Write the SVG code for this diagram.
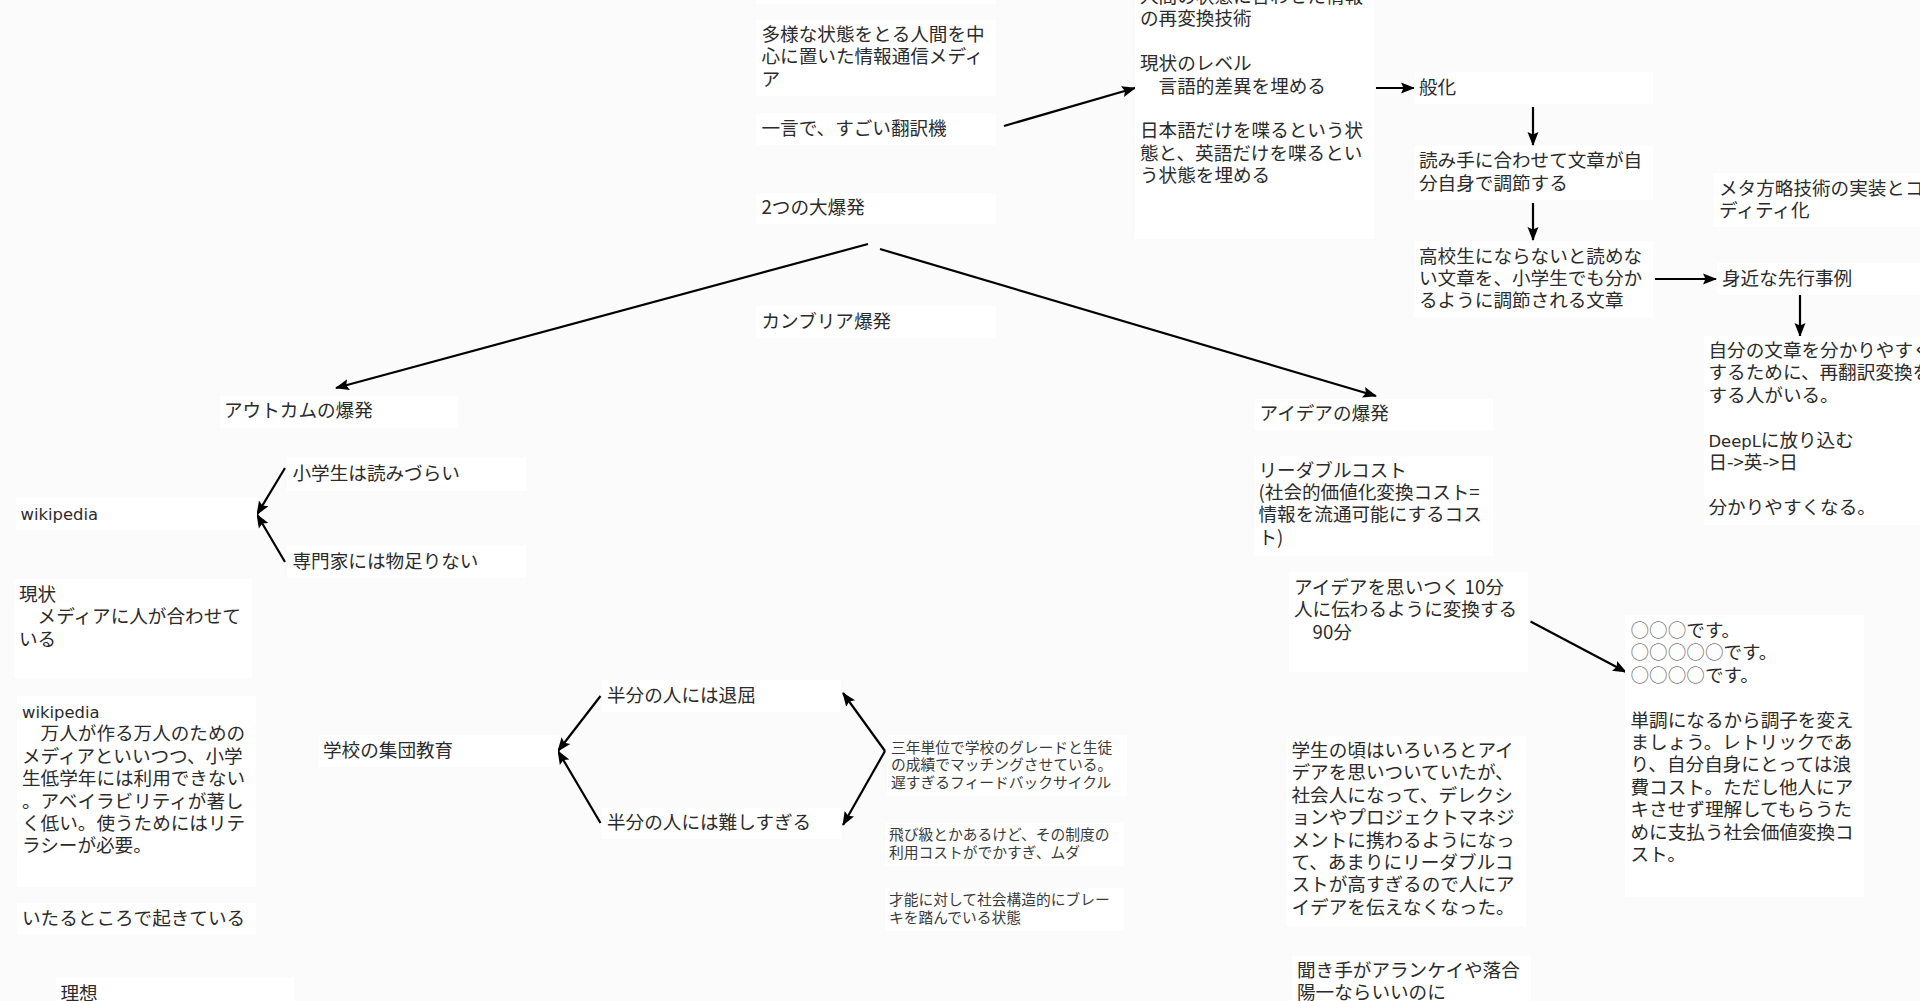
<svg xmlns="http://www.w3.org/2000/svg" width="1920" height="1001" viewBox="0 0 1920 1001">
<style>
.b{fill:#fff}
text{font-family:"Noto Sans CJK JP","Noto Sans",sans-serif;font-size:18.6px;fill:#2b2b2b}
.s{font-size:14.75px;fill:#3a3a3a}
.w{font-family:"DejaVu Sans","Noto Sans",sans-serif;font-size:16.4px}
.o{fill:#777}
.c line{stroke:#000;stroke-width:2.2;fill:none}
.a{marker-end:url(#arr)}
</style>
<defs><marker id="arr" markerUnits="userSpaceOnUse" markerWidth="16" markerHeight="14" refX="13" refY="6" orient="auto"><path d="M0 0.5L14 6L0 11.5L2.5 6Z" fill="#000"/></marker></defs>
<rect width="1920" height="1001" fill="#fbfbfb"/>
<g id="connectors" class="c">
<line class="a" x1="1004" y1="126" x2="1135" y2="88"/>
<line class="a" x1="1376" y1="88" x2="1414" y2="88"/>
<line class="a" x1="1533" y1="107" x2="1533" y2="145"/>
<line class="a" x1="1533" y1="203" x2="1533" y2="240"/>
<line class="a" x1="1655" y1="279" x2="1716" y2="279"/>
<line class="a" x1="1800" y1="287" x2="1800" y2="336"/>
<line class="a" x1="868" y1="244" x2="336" y2="388"/>
<line class="a" x1="880" y1="249" x2="1376" y2="396"/>
<line class="a" x1="285" y1="468" x2="257" y2="514.5"/>
<line class="a" x1="285" y1="562" x2="257" y2="514.5"/>
<line class="a" x1="600.5" y1="696" x2="558" y2="751"/>
<line class="a" x1="600.5" y1="823" x2="558" y2="751"/>
<line class="a" x1="885" y1="751" x2="843" y2="693"/>
<line class="a" x1="885" y1="751" x2="843" y2="825"/>
<line class="a" x1="1530.5" y1="621.5" x2="1626" y2="672"/>
</g>
<g id="n-top"><rect class="b" x="756" y="-20" width="240" height="24"/></g>
<g id="n-tayou"><rect class="b" x="756" y="20" width="240" height="76"/><text y="41"><tspan x="761.5">多様な状態をとる人間を中</tspan><tspan x="761.5" dy="22.4">心に置いた情報通信メディ</tspan><tspan x="761.5" dy="22.4">ア</tspan></text></g>
<g id="n-hitokoto"><rect class="b" x="756" y="113" width="240" height="32"/><text x="761.5" y="134.5">一言で、すごい翻訳機</text></g>
<g id="n-futatsu"><rect class="b" x="756" y="193" width="240" height="31"/><text x="761.5" y="214">2つの大爆発</text></g>
<g id="n-cambria"><rect class="b" x="756" y="306" width="240" height="32"/><text x="761.5" y="328">カンブリア爆発</text></g>
<g id="n-saihenkan"><rect class="b" x="1135" y="-10" width="239" height="249"/><text y="3"><tspan x="1140">人間の状態に合わせた情報</tspan><tspan x="1140" dy="22.4">の再変換技術</tspan><tspan x="1140" dy="44.8">現状のレベル</tspan><tspan x="1140" dy="22.4">　言語的差異を埋める</tspan><tspan x="1140" dy="44.8">日本語だけを喋るという状</tspan><tspan x="1140" dy="22.4">態と、英語だけを喋るとい</tspan><tspan x="1140" dy="22.4">う状態を埋める</tspan></text></g>
<g id="n-ippanka"><rect class="b" x="1414" y="72" width="239" height="32"/><text x="1419" y="93.5">般化</text></g>
<g id="n-yomite"><rect class="b" x="1414" y="146" width="239" height="54"/><text y="167"><tspan x="1419">読み手に合わせて文章が自</tspan><tspan x="1419" dy="22.7">分自身で調節する</tspan></text></g>
<g id="n-koukou"><rect class="b" x="1414" y="241" width="239" height="76.5"/><text y="263"><tspan x="1419">高校生にならないと読めな</tspan><tspan x="1419" dy="22.2">い文章を、小学生でも分か</tspan><tspan x="1419" dy="22.2">るように調節される文章</tspan></text></g>
<g id="n-meta"><rect class="b" x="1714" y="173" width="206" height="54"/><text y="195"><tspan x="1719">メタ方略技術の実装とコ</tspan><tspan x="1719" dy="22.4">ディティ化</tspan></text></g>
<g id="n-mijika"><rect class="b" x="1717" y="263" width="203" height="32"/><text x="1722" y="285">身近な先行事例</text></g>
<g id="n-jibun"><rect class="b" x="1704" y="336" width="216" height="189"/><text y="357"><tspan x="1708.5">自分の文章を分かりやすく</tspan><tspan x="1708.5" dy="22.4">するために、再翻訳変換を</tspan><tspan x="1708.5" dy="22.4">する人がいる。</tspan><tspan class="w" x="1708.5" dy="44.8">DeepL</tspan><tspan>に放り込む</tspan><tspan x="1708.5" dy="22.4">日-&gt;英-&gt;日</tspan><tspan x="1708.5" dy="44.8">分かりやすくなる。</tspan></text></g>
<g id="n-outcome"><rect class="b" x="220" y="396" width="238" height="32"/><text x="224" y="417">アウトカムの爆発</text></g>
<g id="n-shougaku"><rect class="b" x="287" y="458" width="239" height="33"/><text x="292.5" y="480">小学生は読みづらい</text></g>
<g id="n-wiki"><rect class="b" x="16" y="498" width="241" height="32"/><text class="w" x="20.5" y="520">wikipedia</text></g>
<g id="n-senmon"><rect class="b" x="287" y="546" width="239" height="32"/><text x="292.5" y="568">専門家には物足りない</text></g>
<g id="n-genjou"><rect class="b" x="14" y="579" width="238" height="99"/><text y="601"><tspan x="19">現状</tspan><tspan x="19" dy="22.4">　メディアに人が合わせて</tspan><tspan x="19" dy="22.4">いる</tspan></text></g>
<g id="n-wiki2"><rect class="b" x="17" y="696" width="239" height="191"/><text y="717.5"><tspan class="w" x="22">wikipedia</tspan><tspan x="22" dy="22.9">　万人が作る万人のための</tspan><tspan x="22" dy="22.4">メディアといいつつ、小学</tspan><tspan x="22" dy="22.4">生低学年には利用できない</tspan><tspan x="22" dy="22.4">。アベイラビリティが著し</tspan><tspan x="22" dy="22.4">く低い。使うためにはリテ</tspan><tspan x="22" dy="22.4">ラシーが必要。</tspan></text></g>
<g id="n-itaru"><rect class="b" x="17" y="903" width="239" height="31"/><text x="22" y="924.5">いたるところで起きている</text></g>
<g id="n-risou"><rect class="b" x="56" y="978" width="238" height="40"/><text x="60.5" y="999.5">理想</text></g>
<g id="n-gakkou"><rect class="b" x="318" y="735" width="240" height="32"/><text x="323" y="756.5">学校の集団教育</text></g>
<g id="n-taikutsu"><rect class="b" x="602" y="680" width="239" height="32"/><text x="607" y="701.5">半分の人には退屈</text></g>
<g id="n-muzukashi"><rect class="b" x="602" y="808" width="239" height="31"/><text x="607" y="829">半分の人には難しすぎる</text></g>
<g id="n-sannen"><rect class="b" x="887" y="735" width="240" height="61"/><text class="s" y="752.5"><tspan x="891">三年単位で学校のグレードと生徒</tspan><tspan x="891" dy="17.6">の成績でマッチングさせている。</tspan><tspan x="891" dy="17.6">遅すぎるフィードバックサイクル</tspan></text></g>
<g id="n-tobikyuu"><rect class="b" x="885" y="823" width="239" height="43"/><text class="s" y="840.3"><tspan x="889">飛び級とかあるけど、その制度の</tspan><tspan x="889" dy="17.6">利用コストがでかすぎ、ムダ</tspan></text></g>
<g id="n-sainou"><rect class="b" x="885" y="888" width="239" height="43"/><text class="s" y="905.3"><tspan x="889">才能に対して社会構造的にブレー</tspan><tspan x="889" dy="17.6">キを踏んでいる状態</tspan></text></g>
<g id="n-idea"><rect class="b" x="1254" y="399" width="239" height="31.5"/><text x="1259.5" y="420">アイデアの爆発</text></g>
<g id="n-readable"><rect class="b" x="1254" y="456" width="239" height="100"/><text y="476.5"><tspan x="1258.5">リーダブルコスト</tspan><tspan x="1258.5" dy="22.4">(社会的価値化変換コスト=</tspan><tspan x="1258.5" dy="22.4">情報を流通可能にするコス</tspan><tspan x="1258.5" dy="22.4">ト)</tspan></text></g>
<g id="n-omoitsuku"><rect class="b" x="1289" y="572" width="239" height="100"/><text y="594"><tspan x="1294">アイデアを思いつく 10分</tspan><tspan x="1294" dy="22.4">人に伝わるように変換する</tspan><tspan x="1294" dy="22.4">　90分</tspan></text></g>
<g id="n-gakusei"><rect class="b" x="1286" y="736" width="240" height="190"/><text y="757"><tspan x="1291.5">学生の頃はいろいろとアイ</tspan><tspan x="1291.5" dy="22.4">デアを思いついていたが、</tspan><tspan x="1291.5" dy="22.4">社会人になって、デレクシ</tspan><tspan x="1291.5" dy="22.4">ョンやプロジェクトマネジ</tspan><tspan x="1291.5" dy="22.4">メントに携わるようになっ</tspan><tspan x="1291.5" dy="22.4">て、あまりにリーダブルコ</tspan><tspan x="1291.5" dy="22.4">ストが高すぎるので人にア</tspan><tspan x="1291.5" dy="22.4">イデアを伝えなくなった。</tspan></text></g>
<g id="n-kikite"><rect class="b" x="1292" y="956" width="239" height="60"/><text y="976.5"><tspan x="1297">聞き手がアランケイや落合</tspan><tspan x="1297" dy="22.4">陽一ならいいのに</tspan></text></g>
<g id="n-desu"><rect class="b" x="1625" y="615" width="239" height="282"/><text y="637"><tspan class="o" x="1630.5">○○○</tspan><tspan>です。</tspan><tspan class="o" x="1630.5" dy="22.4">○○○○○</tspan><tspan>です。</tspan><tspan class="o" x="1630.5" dy="22.4">○○○○</tspan><tspan>です。</tspan><tspan x="1630.5" dy="44.8">単調になるから調子を変え</tspan><tspan x="1630.5" dy="22.4">ましょう。レトリックであ</tspan><tspan x="1630.5" dy="22.4">り、自分自身にとっては浪</tspan><tspan x="1630.5" dy="22.4">費コスト。ただし他人にア</tspan><tspan x="1630.5" dy="22.4">キさせず理解してもらうた</tspan><tspan x="1630.5" dy="22.4">めに支払う社会価値変換コ</tspan><tspan x="1630.5" dy="22.4">スト。</tspan></text></g>
</svg>
